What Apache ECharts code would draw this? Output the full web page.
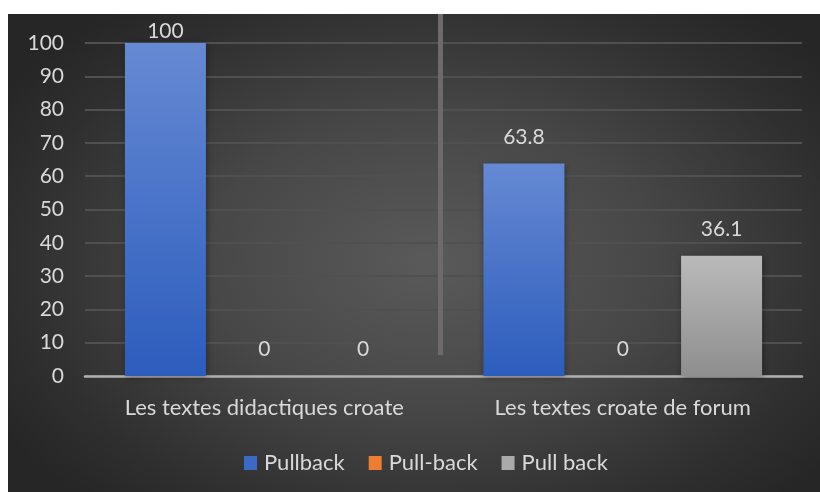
<!DOCTYPE html>
<html>
<head>
<meta charset="utf-8">
<script src="https://cdn.jsdelivr.net/npm/echarts@6/dist/echarts.min.js"></script>
<style>
html,body{margin:0;padding:0;background:#fff;}
#bg{position:absolute;left:8px;top:14px;width:812px;height:478px;
background:radial-gradient(ellipse 62% 68% at 52% 52%, #5a5a5a 0%, #474747 45%, #2f2f2f 82%, #262626 100%);}
#chart{position:absolute;left:0;top:0;width:820px;height:492px;}
</style>
</head>
<body>
<div id="bg"></div>
<div id="chart"></div>
<script>
const categories = ['Les textes didactiques croate', 'Les textes croate de forum'];
const seriesNames = ['Pullback', 'Pull-back', 'Pull back'];
const pullback = [100, 63.8];
const pullDashBack = [0, 0];
const pullSpaceBack = [0, 36.1];
const yTicks = [0, 100, 10];

const FONT = 'Lato';
const TXT = '#d9d9d9';

function lg(top, bottom) {
  return new echarts.graphic.LinearGradient(0, 0, 0, 1, [
    {offset: 0, color: top}, {offset: 1, color: bottom}
  ]);
}

function mkData(arr) {
  return arr.map(v => v >= yTicks[1]
    ? {value: v, label: {distance: 1}}
    : v);
}

const colors = [lg('#6689d3', '#2c5dbd'), lg('#f08a44', '#d8661c'), lg('#bababa', '#8e8e8e')];
const allData = [pullback, pullDashBack, pullSpaceBack];

const chart = echarts.init(document.getElementById('chart'), null, {renderer: 'canvas'});
const option = {
  backgroundColor: 'transparent',
  animation: false,
  textStyle: {fontFamily: FONT},
  grid: {left: 85, right: 18, top: 43, bottom: 116, containLabel: false},
  legend: {
    data: seriesNames.map((n, i) => ({name: n, itemStyle: {color: ['#3d69c6', '#ed7d31', '#aaaaaa'][i]}})),
    top: 452, left: 244, padding: 0,
    itemWidth: 13, itemHeight: 14, itemGap: 24,
    icon: 'rect',
    textStyle: {color: TXT, fontSize: 22, fontFamily: FONT, padding: [0, 0, 0, 2]}
  },
  xAxis: {
    type: 'category',
    data: categories,
    axisLine: {lineStyle: {color: '#b0b0b0', width: 2.5}},
    axisTick: {show: false},
    axisLabel: {color: TXT, fontSize: 22, margin: 21, fontFamily: FONT, interval: 0}
  },
  yAxis: {
    type: 'value',
    min: yTicks[0], max: yTicks[1], interval: yTicks[2],
    axisLine: {show: false},
    axisTick: {show: false},
    axisLabel: {color: TXT, fontSize: 21, margin: 21, fontFamily: FONT},
    splitLine: {lineStyle: {color: '#505050', width: 2}}
  },
  series: seriesNames.map((n, i) => ({
    name: n,
    type: 'bar',
    data: mkData(allData[i]),
    barWidth: 81,
    barGap: '22%',
    itemStyle: {color: colors[i], shadowColor: 'rgba(0,0,0,0.35)', shadowBlur: 6, shadowOffsetX: 1, shadowOffsetY: 1},
    label: {show: true, position: 'top', distance: 16, color: TXT, fontSize: 21, fontFamily: FONT}
  }))
};
chart.setOption(option);

// separator between the two categories
const c0 = chart.convertToPixel({xAxisIndex: 0}, categories[0]);
const c1 = chart.convertToPixel({xAxisIndex: 0}, categories[1]);
const yBottom = chart.convertToPixel({yAxisIndex: 0}, 6.3);
const sepX = (c0 + c1) / 2 - 3;
chart.setOption({
  graphic: [{
    type: 'rect', z: 1,
    shape: {x: sepX - 2.5, y: 14, width: 5, height: yBottom - 14},
    style: {fill: '#6e6a6a'}
  }]
});
</script>
</body>
</html>
